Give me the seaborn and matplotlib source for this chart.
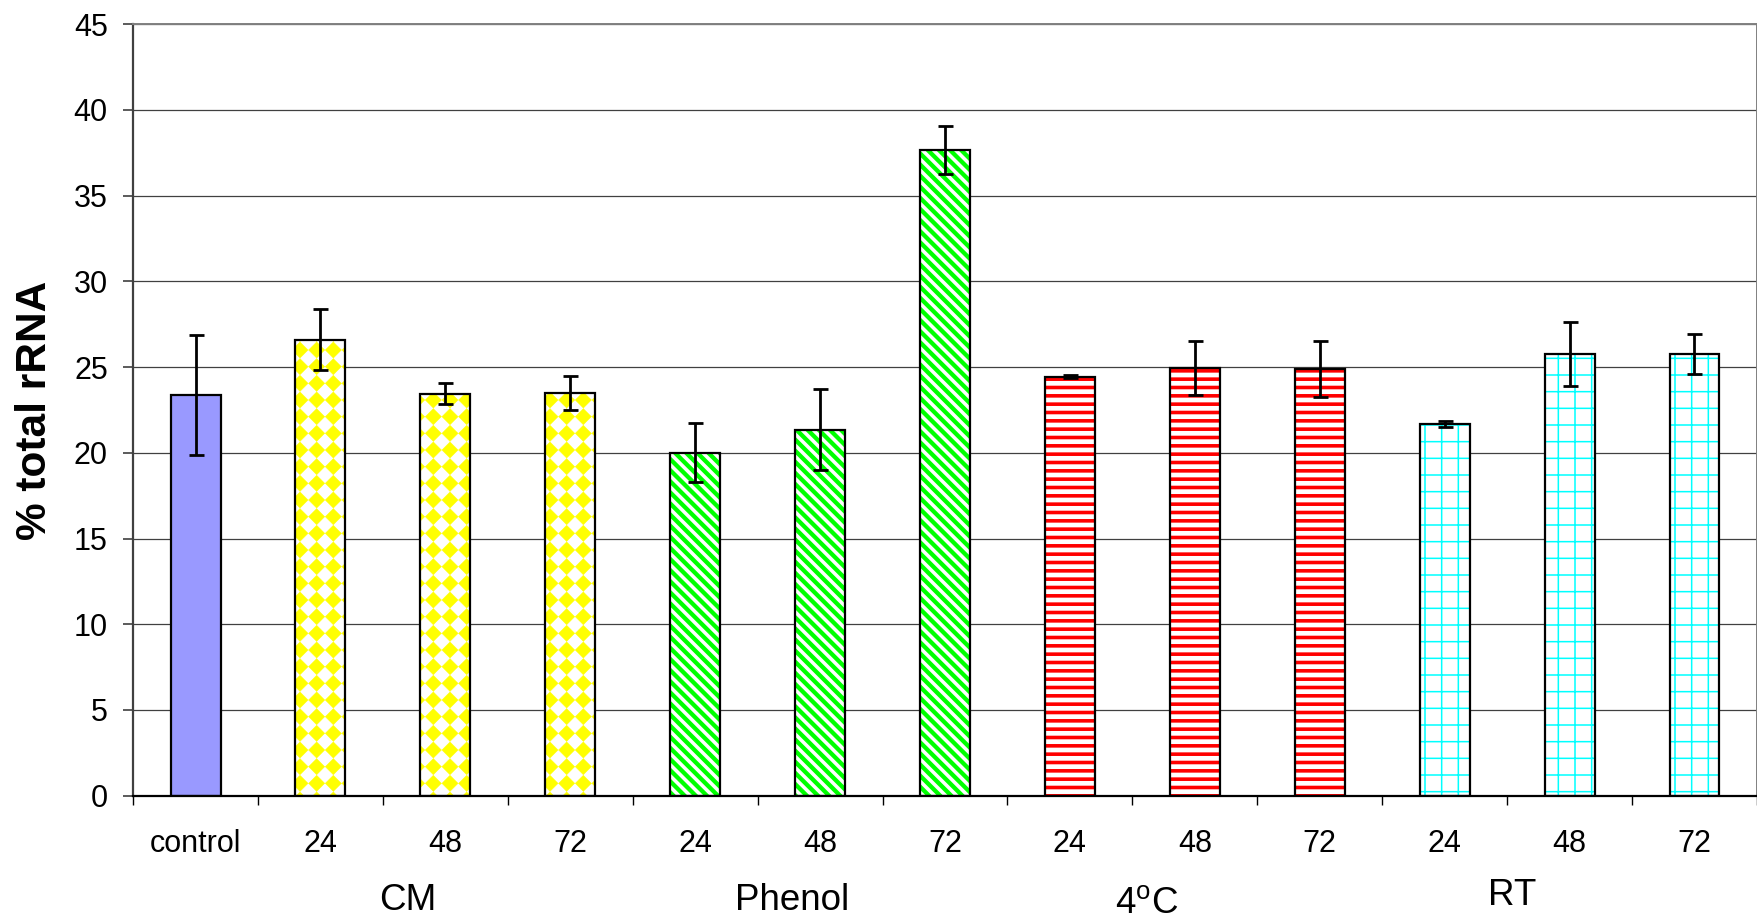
import numpy as np
import pandas as pd
import matplotlib
matplotlib.use("Agg")
import matplotlib.pyplot as plt
import matplotlib.hatch as mhatch
import matplotlib.transforms as mtransforms
from matplotlib.path import Path
from matplotlib.patches import Rectangle
import seaborn as sns

# ---------------- data ----------------
conditions = ["control", "CM 24", "CM 48", "CM 72",
              "Phenol 24", "Phenol 48", "Phenol 72",
              "4C 24", "4C 48", "4C 72",
              "RT 24", "RT 48", "RT 72"]
tick_labels = ["control", "24", "48", "72", "24", "48", "72",
               "24", "48", "72", "24", "48", "72"]
groups = ["control", "CM", "CM", "CM", "Phenol", "Phenol", "Phenol",
          "4C", "4C", "4C", "RT", "RT", "RT"]
values = [23.4, 26.6, 23.45, 23.5, 20.0, 21.35, 37.65,
          24.45, 24.95, 24.9, 21.7, 25.75, 25.75]
errors = [3.5, 1.77, 0.62, 1.0, 1.73, 2.38, 1.4,
          0.08, 1.6, 1.65, 0.18, 1.87, 1.18]
group_names = ["CM", "Phenol", "4$^{\\mathrm{o}}$C", "RT"]

# layout / style (not data)
group_label_x = [1.695, 4.778, 7.618, 10.54]
group_label_y_px = [910, 910, 913, 905]
styles = {
    "control": dict(face="#9999FF", hatch=None, hcolor=None, hlw=0),
    "CM": dict(face="white", hatch="*", hcolor="#FFFF00", hlw=0.3),
    "Phenol": dict(face="white", hatch="\\\\\\", hcolor="#00FF00", hlw=3.1),
    "4C": dict(face="white", hatch="--", hcolor="#FF0000", hlw=2.6),
    "RT": dict(face="white", hatch="+", hcolor="#00FFFF", hlw=1.1),
}


# ------------- custom diamond hatch (replaces '*' stars) -------------
class DiamondHatch(mhatch.HatchPatternBase):
    def __init__(self, hatch, density):
        self.num = int(hatch.count("*") * density)
        self.num_vertices = (self.num + 1) ** 2 * 5 if self.num else 0

    def set_vertices_and_codes(self, vertices, codes):
        n = self.num
        r = 0.5 / n * 0.97
        base = np.array([[0, -r], [r, 0], [0, r], [-r, 0], [0, -r]])
        bc = np.array([Path.MOVETO, Path.LINETO, Path.LINETO, Path.LINETO,
                       Path.CLOSEPOLY], dtype=Path.code_type)
        parts = []
        for i in range(n + 1):
            for j in range(n + 1):
                parts.append(base + [i / n, j / n])
        vertices[:] = np.concatenate(parts)
        codes[:] = np.tile(bc, (n + 1) ** 2)


mhatch._hatch_types = [t for t in mhatch._hatch_types
                       if t is not mhatch.Stars] + [DiamondHatch]

# ---------------- theme ----------------
sns.set_style("white")
plt.rcParams["font.family"] = ["Liberation Sans", "DejaVu Sans"]
plt.rcParams["mathtext.fontset"] = "custom"
plt.rcParams["mathtext.rm"] = "Liberation Sans"
plt.rcParams["mathtext.it"] = "Liberation Sans"
plt.rcParams["text.color"] = "black"
plt.rcParams["axes.labelcolor"] = "black"

df = pd.DataFrame({"cond": conditions, "pct": values, "group": groups})

fig = plt.figure(figsize=(17.58, 9.19), dpi=100)
ax = fig.add_axes([0.0757, 0.1342, 0.9237, 0.8394])

palette = {c: styles[g]["face"] for c, g in zip(conditions, groups)}
sns.barplot(data=df, x="cond", y="pct", hue="cond", order=conditions,
            hue_order=conditions, palette=palette, width=0.4,
            edgecolor="black", linewidth=1.6, errorbar=None,
            legend=False, ax=ax, zorder=2, saturation=1)

bars = sorted([p for p in ax.patches if isinstance(p, Rectangle)],
              key=lambda p: p.get_x())
bars = bars[:len(conditions)]

centers = []
for p, g in zip(bars, groups):
    st = styles[g]
    centers.append(p.get_x() + p.get_width() / 2)
    if st["hatch"] is None:
        continue
    plt.rcParams["hatch.linewidth"] = st["hlw"]
    p.set_facecolor("white")
    p.set_edgecolor(st["hcolor"])
    p.set_hatch(st["hatch"])
    p.set_linewidth(0)
    try:
        p.set_hatch_linewidth(st["hlw"])
    except AttributeError:
        pass
    outline = Rectangle((p.get_x(), p.get_y()), p.get_width(), p.get_height(),
                        fill=False, edgecolor="black", linewidth=1.6, zorder=3)
    ax.add_patch(outline)

ax.errorbar(centers, values, yerr=errors, fmt="none", ecolor="black",
            elinewidth=2.0, capsize=5.4, capthick=2.0, zorder=5)

# ---------------- axes ----------------
ax.set_ylim(0, 45)
ax.set_xlim(-0.5, len(conditions) - 0.5)
ax.set_yticks(np.arange(0, 46, 5))
ax.yaxis.grid(True, color="#404040", linewidth=0.9, zorder=0)
ax.xaxis.grid(False)
ax.set_axisbelow(True)

ax.set_xticks(range(len(conditions)))
ax.set_xticklabels(tick_labels)
ax.set_xticks(np.arange(-0.5, len(conditions), 1), minor=True)
ax.tick_params(axis="x", which="major", length=0, pad=24, labelsize=22,
               labelcolor="black")
ax.tick_params(axis="x", which="minor", length=6.5, width=1, color="black",
               direction="out", bottom=True)
ax.tick_params(axis="y", which="major", length=7.2, width=1.2, color="#404040",
               direction="out", left=True, pad=11, labelsize=22,
               labelcolor="black")
ax.set_xlabel("")
ax.set_ylabel("")

for side, col, lw in [("left", "#404040", 1.6), ("bottom", "black", 1.6),
                      ("top", "#808080", 1.4), ("right", "#808080", 1.4)]:
    ax.spines[side].set_visible(True)
    ax.spines[side].set_color(col)
    ax.spines[side].set_linewidth(lw)

fig.text(35 / 1758, 1 - 410 / 919, "% total rRNA", rotation=90,
         ha="center", va="center", fontsize=30.5, fontweight="bold",
         color="black")

trans = mtransforms.blended_transform_factory(ax.transData, fig.transFigure)
for name, gx, gy in zip(group_names, group_label_x, group_label_y_px):
    ax.text(gx, 1 - gy / 919, name, transform=trans, ha="center",
            va="baseline", fontsize=26.5, color="black")

fig.savefig("out.png", dpi=100)
